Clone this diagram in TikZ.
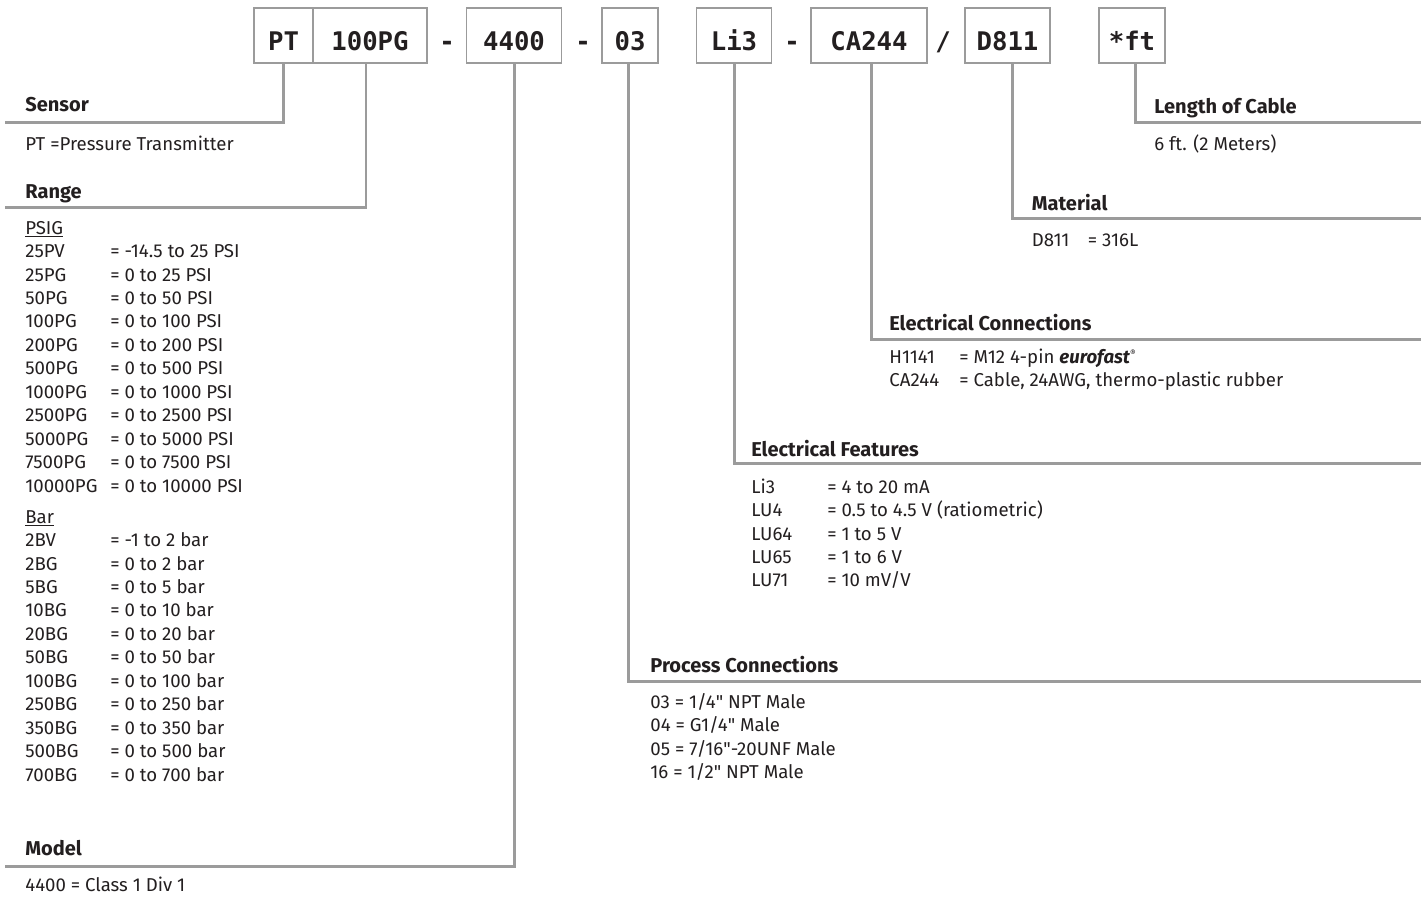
\documentclass[tikz,border=0pt]{standalone}
\usepackage{fontspec}
\setmainfont{Fira Sans}
\newfontfamily\rawfont{Fira Sans}
\newfontfamily\codefont{DejaVu Sans Mono}
\usetikzlibrary{positioning}
\definecolor{rule}{HTML}{9B9B9B}
\definecolor{ink}{HTML}{231F20}
\newcommand\opt[3]{\makebox[#1][l]{#2}#3}
\newcommand\optlist[1]{\begin{tabular}[t]{@{}l@{}}#1\end{tabular}}
\newcommand\inch{{\rawfont"}}

\begin{document}
\begin{tikzpicture}[
  x=0.2mm, y=-0.2mm,
  code/.style={inner sep=0, text=ink, font=\codefont\bfseries\fontsize{14.6}{16}\selectfont, text height=20.5pt, text depth=4pt, minimum height=11mm},
  part/.style={code, draw=rule, line width=1.1pt},
  head/.style={anchor=base west, inner sep=0, text=ink, font=\bfseries\fontsize{11.4}{13}\selectfont},
  body/.style={anchor=base west, inner sep=0, text=ink, font=\fontsize{10.6}{13.37}\selectfont},
  lead/.style={draw=rule, line width=1.7pt}
]
\useasboundingbox (0,0) rectangle (1421,904);

% part number boxes
\node[part, minimum width=11.8mm] (pt) at (283.5,35.5) {PT};
\node[part, minimum width=22.8mm] (rng) at (370,35.5) {100PG};
\node[part, minimum width=19mm] (mdl) at (514,35.5) {4400};
\node[part, minimum width=11.2mm] (prc) at (630,35.5) {03};
\node[part, minimum width=15mm] (elf) at (734,35.5) {Li3};
\node[part, minimum width=23.2mm] (elc) at (869,35.5) {CA244};
\node[part, minimum width=17mm] (mat) at (1007.5,35.5) {D811};
\node[part, minimum width=13.2mm] (len) at (1132,35.5) {*ft};

\node[code] (sep1) at (447,35.5) {-};
\node[code] (sep2) at (583,35.5) {-};
\node[code] (sep3) at (792,35.5) {-};
\node[code] (sep4) at (943,35.5) {/};

% left column
\node[head] (hsensor) at (25,111.5) {Sensor};
\node[body] (tsensor) at (25,150) {PT =Pressure Transmitter};

\node[head] (hrange) at (25,198) {Range};
\node[body] (tpsig) at (25,234) {\optlist{\underline{PSIG}\\
  \opt{48.4pt}{25PV}{= -14.5 to 25 PSI}\\
  \opt{48.4pt}{25PG}{= 0 to 25 PSI}\\
  \opt{48.4pt}{50PG}{= 0 to 50 PSI}\\
  \opt{48.4pt}{100PG}{= 0 to 100 PSI}\\
  \opt{48.4pt}{200PG}{= 0 to 200 PSI}\\
  \opt{48.4pt}{500PG}{= 0 to 500 PSI}\\
  \opt{48.4pt}{1000PG}{= 0 to 1000 PSI}\\
  \opt{48.4pt}{2500PG}{= 0 to 2500 PSI}\\
  \opt{48.4pt}{5000PG}{= 0 to 5000 PSI}\\
  \opt{48.4pt}{7500PG}{= 0 to 7500 PSI}\\
  \opt{48.4pt}{10000PG}{= 0 to 10000 PSI}}};
\node[body] (tbar) at (25,523) {\optlist{\underline{Bar}\\
  \opt{48.4pt}{2BV}{= -1 to 2 bar}\\
  \opt{48.4pt}{2BG}{= 0 to 2 bar}\\
  \opt{48.4pt}{5BG}{= 0 to 5 bar}\\
  \opt{48.4pt}{10BG}{= 0 to 10 bar}\\
  \opt{48.4pt}{20BG}{= 0 to 20 bar}\\
  \opt{48.4pt}{50BG}{= 0 to 50 bar}\\
  \opt{48.4pt}{100BG}{= 0 to 100 bar}\\
  \opt{48.4pt}{250BG}{= 0 to 250 bar}\\
  \opt{48.4pt}{350BG}{= 0 to 350 bar}\\
  \opt{48.4pt}{500BG}{= 0 to 500 bar}\\
  \opt{48.4pt}{700BG}{= 0 to 700 bar}}};

\node[head] (hmodel) at (25,855.5) {Model};
\node[body] (tmodel) at (25,891) {4400 = Class 1 Div 1};

% right side
\node[head] (hlen) at (1154,113) {Length of Cable};
\node[body] (tlen) at (1154,150) {6 ft. (2 Meters)};

\node[head] (hmat) at (1031.5,210.5) {Material};
\node[body] (tmat) at (1031.5,246.5) {\opt{31.9pt}{D811}{= 316L}};

\node[head] (helc) at (889,330) {Electrical Connections};
\node[body] (telc) at (889,363) {\optlist{%
  \opt{39.8pt}{H1141}{= M12 4-pin \textbf{\textit{eurofast}}\textsuperscript{\tiny ®}}\\
  \opt{39.8pt}{CA244}{= Cable, 24AWG, thermo-plastic rubber}}};

\node[head] (helf) at (751,456) {Electrical Features};
\node[body] (telf) at (751,493) {\optlist{%
  \opt{43.2pt}{Li3}{= 4 to 20 mA}\\
  \opt{43.2pt}{LU4}{= 0.5 to 4.5 V (ratiometric)}\\
  \opt{43.2pt}{LU64}{= 1 to 5 V}\\
  \opt{43.2pt}{LU65}{= 1 to 6 V}\\
  \opt{43.2pt}{LU71}{= 10 mV/V}}};

\node[head] (hprc) at (650,672.5) {Process Connections};
\node[body] (tprc) at (650,708) {\optlist{03 = 1/4\inch{} NPT Male\\
  04 = G1/4\inch{} Male\\
  05 = 7/16\inch-20UNF Male\\
  16 = 1/2\inch{} NPT Male}};

% leader lines
\coordinate (esensor) at (5,122.5);
\coordinate (erange) at (5,207);
\coordinate (emodel) at (5,866);
\coordinate (eprc) at (1421,681);
\coordinate (eelf) at (1421,463.5);
\coordinate (eelc) at (1421,339.5);
\coordinate (emat) at (1421,218);
\coordinate (elen) at (1421,122);

\draw[lead] (pt.south) |- (esensor);
\draw[lead] ([xshift=-0.8mm]rng.south) |- (erange);
\draw[lead] (mdl.south) |- (emodel);
\draw[lead] ([xshift=-0.4mm]prc.south) |- (eprc);
\draw[lead] (elf.south) |- (eelf);
\draw[lead] ([xshift=0.4mm]elc.south) |- (eelc);
\draw[lead] ([xshift=0.9mm]mat.south) |- (emat);
\draw[lead] ([xshift=0.6mm]len.south) |- (elen);
\end{tikzpicture}
\end{document}
